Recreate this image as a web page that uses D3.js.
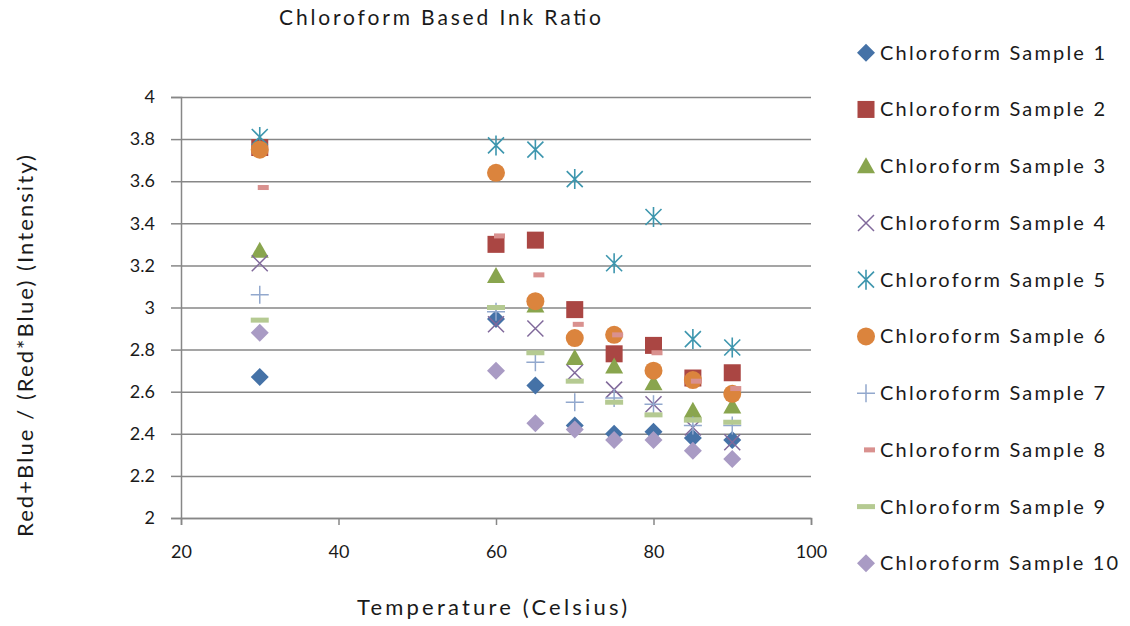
<!DOCTYPE html>
<html>
<head>
<meta charset="utf-8">
<script src="https://cdn.jsdelivr.net/npm/d3@7"></script>
<style>
  body { margin: 0; background: #fff; }
  svg text { font-family: Lato, "Open Sans", sans-serif; fill: #1a1a1a; }
</style>
</head>
<body>
<div id="chart"></div>
<script>
// data
const temps = [30, 60, 65, 70, 75, 80, 85, 90];
const seriesNames = [
  "Chloroform Sample 1", "Chloroform Sample 2", "Chloroform Sample 3",
  "Chloroform Sample 4", "Chloroform Sample 5", "Chloroform Sample 6",
  "Chloroform Sample 7", "Chloroform Sample 8", "Chloroform Sample 9",
  "Chloroform Sample 10"
];
const sample1 = [2.67, 2.945, 2.63, 2.44, 2.40, 2.41, 2.38, 2.37];
const sample2 = [3.76, 3.30, 3.32, 2.99, 2.78, 2.82, 2.665, 2.69];
const sample3 = [3.27, 3.15, 3.01, 2.76, 2.72, 2.64, 2.51, 2.53];
const sample4 = [3.21, 2.92, 2.90, 2.69, 2.61, 2.54, 2.43, 2.36];
const sample5 = [3.81, 3.77, 3.75, 3.61, 3.21, 3.43, 2.85, 2.81];
const sample6 = [3.75, 3.64, 3.03, 2.855, 2.87, 2.70, 2.655, 2.59];
const sample7 = [3.06, 2.98, 2.74, 2.55, 2.57, 2.54, 2.44, 2.44];
const sample8 = [3.57, 3.34, 3.155, 2.92, 2.87, 2.785, 2.65, 2.615];
const sample9 = [2.94, 3.00, 2.785, 2.65, 2.55, 2.49, 2.465, 2.455];
const sample10 = [2.88, 2.70, 2.45, 2.42, 2.37, 2.37, 2.32, 2.28];
const xTicks = [20, 40, 60, 80, 100];
const yTicks = [2, 2.2, 2.4, 2.6, 2.8, 3, 3.2, 3.4, 3.6, 3.8, 4];

const allSamples = [sample1, sample2, sample3, sample4, sample5,
                    sample6, sample7, sample8, sample9, sample10];

const colors = ["#4572a7", "#aa4643", "#89a54e", "#80699b", "#3d96ae",
                "#db843d", "#92a8cd", "#d9918f", "#b5ca92", "#a99bc4"];
const shapes = ["diamond", "square", "triangle", "x", "star",
                "circle", "plus", "dash", "bar", "diamond"];

const width = 1130;
const height = 626;
const plot = { left: 181, right: 811, top: 97, bottom: 518 };

const svg = d3.select('#chart')
    .append('svg')
    .attr('width', width)
    .attr('height', height);

const x = d3.scaleLinear().domain([20, 100]).range([plot.left, plot.right]);
const y = d3.scaleLinear().domain([2, 4]).range([plot.bottom, plot.top]);

// gridlines
svg.append('g')
    .attr('transform', `translate(${plot.left},0)`)
    .call(d3.axisLeft(y).tickValues(yTicks).tickSize(-(plot.right - plot.left)).tickFormat(''))
    .call(g => g.select('.domain').remove())
    .selectAll('line')
    .attr('stroke', '#878787')
    .attr('stroke-width', 1.5);

// y axis
svg.append('g')
    .attr('transform', `translate(${plot.left},0)`)
    .call(d3.axisLeft(y).tickValues(yTicks).tickSize(10).tickPadding(16).tickFormat(d3.format('')))
    .call(g => g.select('.domain').attr('stroke', '#878787').attr('stroke-width', 1.5))
    .call(g => g.selectAll('line').attr('stroke', '#878787').attr('stroke-width', 1.5))
    .call(g => g.selectAll('text').style('font-size', '18px').attr('fill', '#1a1a1a'));

// x axis
svg.append('g')
    .attr('transform', `translate(0,${plot.bottom})`)
    .call(d3.axisBottom(x).tickValues(xTicks).tickSize(7).tickPadding(20))
    .call(g => g.select('.domain').attr('stroke', '#878787').attr('stroke-width', 1.5))
    .call(g => g.selectAll('line').attr('stroke', '#878787').attr('stroke-width', 1.5))
    .call(g => g.selectAll('text').style('font-size', '18px').attr('fill', '#1a1a1a'));

// marker drawing
function drawMarker(g, shape, color) {
    if (shape === 'diamond') {
        g.append('path').attr('d', 'M0,-9L9,0L0,9L-9,0Z').attr('fill', color);
    } else if (shape === 'square') {
        g.append('rect').attr('x', -8.5).attr('y', -8.5).attr('width', 17).attr('height', 17).attr('fill', color);
    } else if (shape === 'triangle') {
        g.append('path').attr('d', 'M0,-9L9,7L-9,7Z').attr('fill', color);
    } else if (shape === 'circle') {
        g.append('circle').attr('r', 9).attr('fill', color);
    } else if (shape === 'x') {
        g.append('path').attr('d', 'M-8,-8L8,8M-8,8L8,-8').attr('stroke', color).attr('stroke-width', 1.5);
    } else if (shape === 'star') {
        g.append('path').attr('d', 'M-8,-8L8,8M-8,8L8,-8M0,-10L0,10').attr('stroke', color).attr('stroke-width', 1.6);
    } else if (shape === 'plus') {
        g.append('path').attr('d', 'M-9,0L9,0M0,-9L0,9').attr('stroke', color).attr('stroke-width', 1.5);
    } else if (shape === 'dash') {
        g.append('rect').attr('x', -2).attr('y', -2.5).attr('width', 11).attr('height', 5).attr('fill', color);
    } else if (shape === 'bar') {
        g.append('rect').attr('x', -9).attr('y', -2.5).attr('width', 18).attr('height', 5).attr('fill', color);
    }
}

// points
allSamples.forEach((values, i) => {
    const pts = svg.append('g').attr('class', 'series')
        .selectAll('.pt')
        .data(values.map((v, j) => ({ t: temps[j], v: v })))
        .enter()
        .append('g')
        .attr('class', 'pt')
        .attr('transform', d => `translate(${x(d.t)},${y(d.v)})`);
    pts.each(function () { drawMarker(d3.select(this), shapes[i], colors[i]); });
});

// legend
const legend = svg.append('g');
seriesNames.forEach((name, i) => {
    const row = legend.append('g').attr('transform', `translate(866,${52.7 + i * 56.74})`);
    drawMarker(row, shapes[i], colors[i]);
    row.append('text')
        .attr('x', 14)
        .attr('dy', '0.35em')
        .style('font-size', '20px')
        .attr('textLength', i === 9 ? 238 : 225)
        .attr('lengthAdjust', 'spacing')
        .text(name);
});

// titles
svg.append('text')
    .attr('x', 440).attr('y', 18).attr('dy', '0.35em')
    .attr('text-anchor', 'middle')
    .style('font-size', '21px')
    .attr('textLength', 322).attr('lengthAdjust', 'spacing')
    .text('Chloroform Based Ink Ratio');

svg.append('text')
    .attr('x', 492).attr('y', 607).attr('dy', '0.35em')
    .attr('text-anchor', 'middle')
    .style('font-size', '22px')
    .attr('textLength', 270).attr('lengthAdjust', 'spacing')
    .text('Temperature (Celsius)');

svg.append('text')
    .attr('transform', 'translate(25,346) rotate(-90)')
    .attr('dy', '0.35em')
    .attr('text-anchor', 'middle')
    .style('font-size', '22px')
    .attr('textLength', 382).attr('lengthAdjust', 'spacing')
    .text('Red+Blue / (Red*Blue) (Intensity)');
</script>
</body>
</html>
